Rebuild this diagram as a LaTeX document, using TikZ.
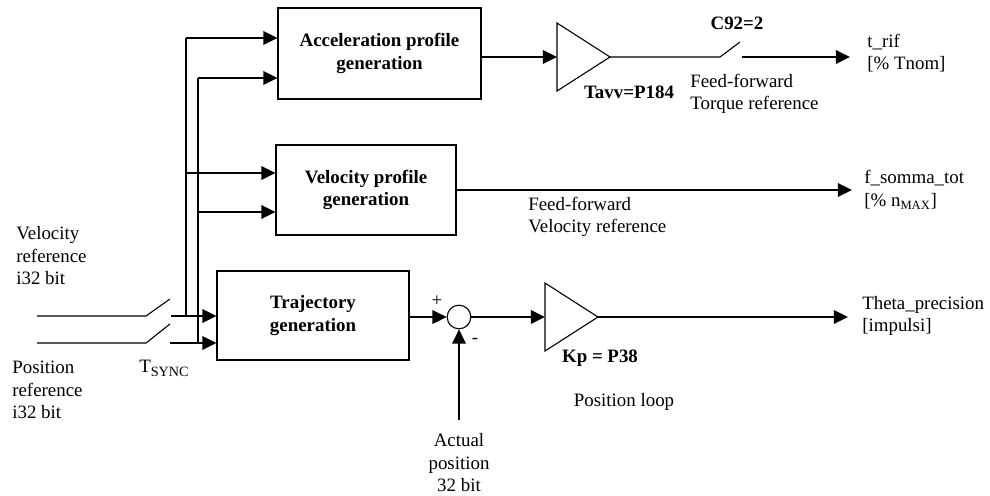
\documentclass[tikz,border=0pt]{standalone}
\usepackage{fontspec}
\setmainfont{Liberation Serif}
\usepackage{tikz}
\usetikzlibrary{arrows.meta}

\begin{document}
\begin{tikzpicture}[x=0.635pt,y=-0.635pt,font=\fontsize{12}{14.3}\selectfont,
  block/.style={draw,line width=0.7pt,font=\fontsize{12}{14.3}\selectfont\bfseries,align=center,inner sep=0},
  sig/.style={line width=1.4pt,-{Triangle[length=9pt,width=8.5pt]}},
  wire/.style={line width=0.7pt},
  bus/.style={line width=1.1pt},
  lbl/.style={align=left,anchor=west,inner sep=0},
  bold/.style={font=\fontsize{12}{14.3}\selectfont\bfseries,inner sep=0}]
\useasboundingbox (0,0) rectangle (990,495);
% blocks
\node[block,minimum width=128.9pt,minimum height=57.8pt] (acc) at (379.5,53.5) {Acceleration profile\\generation};
\node[block,minimum width=114.3pt,minimum height=57.2pt] (vel) at (366,190) {Velocity profile\\generation};
\node[block,minimum width=121.9pt,minimum height=56.5pt] (traj) at (313,315.5) {Trajectory\\generation};
\node[draw,circle,minimum size=15pt,inner sep=0,line width=0.7pt] (sum) at (459,317) {};
% gains
\coordinate (g1in) at (557,57);
\coordinate (g1out) at (610,57);
\draw[wire] (557,23) -- (g1out) -- (557,91) -- cycle;
\coordinate (g2in) at (545,317);
\coordinate (g2out) at (598,317);
\draw[wire] (545,283) -- (g2out) -- (545,351) -- cycle;
% end points
\coordinate (sw1a) at (720,57);
\coordinate (sw1b) at (740,42);
\coordinate (sw1c) at (742,57);
\coordinate (trif) at (850,57);
\coordinate (fsom) at (852,190);
\coordinate (theta) at (848,317);
\coordinate (fb) at (459,420);
\coordinate (vin) at (37,316);
\coordinate (vsw) at (146,316);
\coordinate (vbl) at (170,299);
\coordinate (vout) at (171,316);
\coordinate (pin) at (37,343);
\coordinate (psw) at (146,343);
\coordinate (pbl) at (170,324);
\coordinate (pout) at (170,343);
\coordinate (bA) at (186,38);
\coordinate (bB) at (186,173);
\coordinate (bC) at (186,316);
\coordinate (cA) at (198,78);
\coordinate (cB) at (198,212);
\coordinate (cC) at (198,343);
% switches
\draw[wire] (vin) -- (vsw) -- (vbl);
\draw[wire] (pin) -- (psw) -- (pbl);
\draw[sig] (vout) -- (traj.west |- vout);
\draw[sig] (pout) -- (traj.west |- pout);
% bus
\draw[bus] (bC) -- (bA);
\draw[bus] (cC) -- (cA);
\draw[sig] (bA) -- (acc.west |- bA);
\draw[sig] (cA) -- (acc.west |- cA);
\draw[sig] (bB) -- (vel.west |- bB);
\draw[sig] (cB) -- (vel.west |- cB);
% outputs
\draw[sig] (acc.east |- g1in) -- (g1in);
\draw[wire] (g1out) -- (sw1a) -- (sw1b);
\draw[sig] (sw1c) -- (trif);
\draw[sig] (vel.east) -- (fsom);
\draw[sig] (traj.east |- sum) -- (sum.west);
\draw[sig] (fb) -- (sum.south);
\draw[sig] (sum.east) -- (g2in);
\draw[sig] (g2out) -- (theta);
% labels
\node[lbl] (lvref) at (16,256) {Velocity\\reference\\i32 bit};
\node[lbl] (lpref) at (12,390) {Position\\reference\\i32 bit};
\node[inner sep=0] (ltsync) at (164,368) {T\raisebox{-0.45ex}{\fontsize{9}{10}\selectfont SYNC}};
\node[bold] (lc92) at (737,23) {C92=2};
\node[bold] (ltavv) at (629,92) {Tavv=P184};
\node[lbl] (ltorq) at (690,94) {Feed-forward\\Torque reference};
\node[lbl] (ltrif) at (867,53) {t\_rif\\{[\% Tnom]}};
\node[lbl] (lffvel) at (528,217) {Feed-forward\\Velocity reference};
\node[lbl] (lfsom) at (864,190) {f\_somma\_tot\\{[\% n\textsubscript{MAX}]}};
\node[lbl] (ltheta) at (862,316) {Theta\_precision\\{[impulsi]}};
\node[bold] (lkp) at (600,358) {Kp = P38};
\node[inner sep=0] (lloop) at (624,402) {Position loop};
\node[align=center,inner sep=0] (lact) at (459,463) {Actual\\position\\32 bit};
\node[inner sep=0] (lplus) at (437,301) {+};
\node[inner sep=0] (lminus) at (475,341) {-};
\end{tikzpicture}
\end{document}
